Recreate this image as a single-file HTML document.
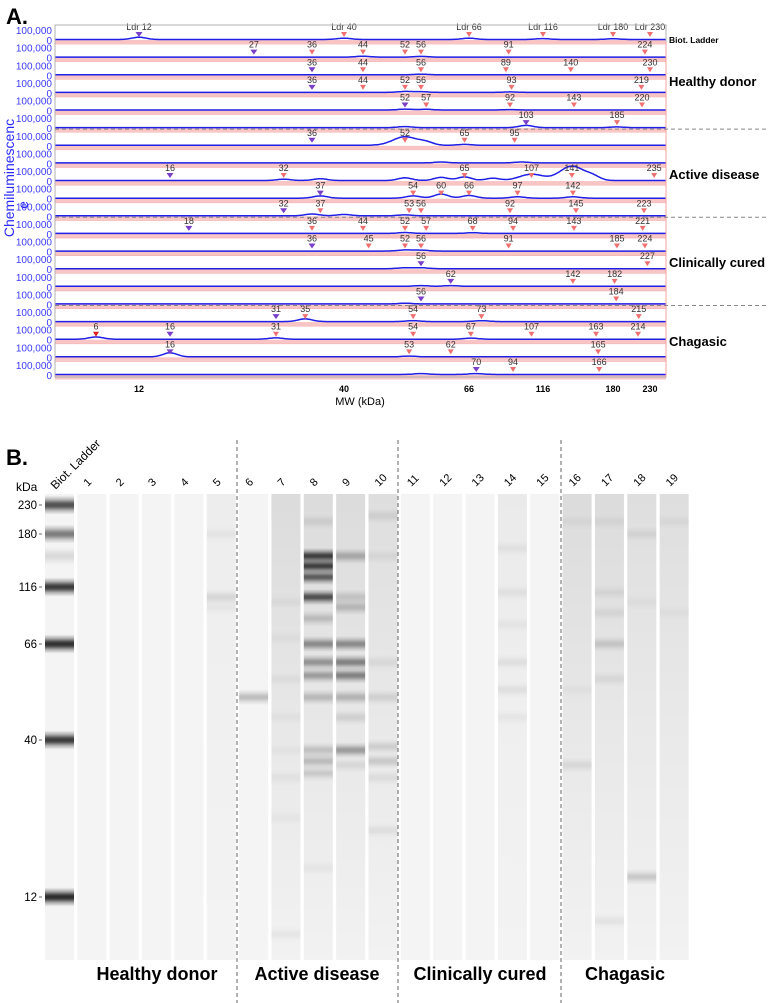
<!DOCTYPE html>
<html><head><meta charset="utf-8"><style>
html,body{margin:0;padding:0;background:#fff;}
body{width:768px;height:1003px;overflow:hidden;position:relative;font-family:"Liberation Sans",Arial,sans-serif;}
svg{position:absolute;left:0;top:0;}
</style></head><body>
<svg id="fig" width="768" height="1003" viewBox="0 0 768 1003" xmlns="http://www.w3.org/2000/svg">
<defs>
<linearGradient id="bandG" x1="0" y1="0" x2="0" y2="1">
<stop offset="0" stop-color="#000" stop-opacity="0"/>
<stop offset="0.2" stop-color="#000" stop-opacity="0.35"/>
<stop offset="0.4" stop-color="#000" stop-opacity="0.9"/>
<stop offset="0.5" stop-color="#000" stop-opacity="1"/>
<stop offset="0.6" stop-color="#000" stop-opacity="0.9"/>
<stop offset="0.8" stop-color="#000" stop-opacity="0.35"/>
<stop offset="1" stop-color="#000" stop-opacity="0"/>
</linearGradient>
<linearGradient id="smearG" x1="0" y1="0" x2="0" y2="1">
<stop offset="0" stop-color="#000" stop-opacity="0.1"/>
<stop offset="0.5" stop-color="#000" stop-opacity="0.05"/>
<stop offset="1" stop-color="#000" stop-opacity="0.01"/>
</linearGradient>
</defs>
<text x="6" y="24" font-size="22" font-weight="bold">A.</text>
<text x="6" y="465" font-size="22" font-weight="bold">B.</text>
<g id="pa"></g>
<g id="pb"></g>
</svg>
<script>
// ---- Panel A data ----
const ladderMW = [12, 40, 66, 116, 180, 230];
const xTickLabels = ["12", "40", "66", "116", "180", "230"];
const rowMarkers = [
  [12, 40, 66, 116, 180, 230],
  [27, 36, 44, 52, 56, 91, 224],
  [36, 44, 56, 89, 140, 230],
  [36, 44, 52, 56, 93, 219],
  [52, 57, 92, 143, 220],
  [103, 185],
  [36, 52, 65, 95],
  [],
  [16, 32, 65, 107, 141, 235],
  [37, 54, 60, 66, 97, 142],
  [32, 37, 53, 56, 92, 145, 223],
  [18, 36, 44, 52, 57, 68, 94, 143, 221],
  [36, 45, 52, 56, 91, 185, 224],
  [56, 227],
  [62, 142, 182],
  [56, 184],
  [31, 35, 54, 73, 215],
  [6, 16, 31, 54, 67, 107, 163, 214],
  [16, 53, 62, 165],
  [70, 94, 166]
];
const rowPrimary = [12, 27, 36, 36, 52, 103, 36, null, 16, 37, 32, 18, 36, 56, 62, 56, 31, 16, 16, 70];
const rowPeaks = [
  [[12, 25], [40, 15], [66, 15], [116, 10], [180, 8]],
  [[44, 10], [56, 8]],
  [[56, 6]],
  [[52, 10], [56, 8], [92, 5]],
  [[52, 10], [57, 8], [92, 5]],
  [[52, 12], [103, 25], [185, 8]],
  [[52, 95], [57, 30], [65, 10]],
  [[60, 10], [100, 10]],
  [[32, 15], [37, 20], [52, 30], [60, 35], [65, 40], [80, 25], [107, 70], [141, 160], [160, 40]],
  [[37, 25], [54, 25], [60, 45], [66, 30], [97, 15], [142, 15]],
  [[36, 20], [40, 15], [52, 10]],
  [[52, 10], [68, 8]],
  [[52, 12], [56, 10]],
  [[52, 10], [56, 10]],
  [[56, 8], [62, 8]],
  [[52, 8]],
  [[35, 30], [54, 10], [73, 10]],
  [[6, 25], [31, 15], [67, 12]],
  [[16, 45], [53, 8]],
  [[56, 10], [70, 10]]
];
const groupNames = ["Healthy  donor", "Active disease", "Clinically  cured", "Chagasic"];

// ---- Panel B data ----
const laneNames = ["Biot. Ladder","1","2","3","4","5","6","7","8","9","10","11","12","13","14","15","16","17","18","19"];
const gelTickMW = [230, 180, 116, 66, 40, 12];
const laneSmear = [0,0,0,0,0,0.3,0,1.2,1,1,0.9,0,0,0,0.4,0,1,1.1,0.9,0.9];
const laneBands = [
  [[230,.75],[180,.55],[150,.12],[116,.85],[66,.9],[40,.85],[12,.92]],
  [],[],[],[],
  [[180,.05],[105,.13],[95,.05]],
  [[50,.28]],
  [[100,.05],[70,.04],[55,.05],[45,.04],[37,.04],[30,.05],[22,.04],[9,.06]],
  [[200,.1],[150,.92],[138,.92],[126,.75],[105,.82],[85,.22],[66,.5],[60,.45],[56,.4],[50,.25],[37,.22],[34,.25],[31,.18],[15,.05]],
  [[150,.32],[105,.18],[95,.25],[66,.5],[60,.55],[56,.55],[50,.28],[45,.13],[37,.42],[33,.1]],
  [[210,.1],[150,.07],[60,.08],[50,.13],[38,.15],[34,.18],[30,.08],[20,.08]],
  [],[],[],
  [[160,.06],[110,.07],[80,.05],[60,.08],[52,.08],[45,.05]],
  [],
  [[200,.05],[52,.04],[33,.1]],
  [[200,.06],[110,.08],[90,.08],[66,.18],[55,.08],[10,.07]],
  [[180,.08],[100,.04],[14,.2]],
  [[200,.05],[90,.04]]
];
const gelGroups = ["Healthy donor", "Active disease", "Clinically cured", "Chagasic"];

// ---- scales ----
const xAnch = [[6,96],[12,139],[16,170],[31,276],[36,312],[40,344],[44,363],[52,405],[56,421],[66,469],[92,510],[116,543],[145,576],[180,613],[223,644],[230,650]];
function interp(anch, v){
  const lv = Math.log(v);
  let i = 0;
  if (lv <= Math.log(anch[0][0])) i = 0;
  else if (lv >= Math.log(anch[anch.length-1][0])) i = anch.length-2;
  else { while (!(lv >= Math.log(anch[i][0]) && lv <= Math.log(anch[i+1][0]))) i++; }
  const a = anch[i], b = anch[i+1];
  const t = (lv - Math.log(a[0]))/(Math.log(b[0]) - Math.log(a[0]));
  return a[1] + t*(b[1]-a[1]);
}
const xA = mw => interp(xAnch, mw);
const yAnch = [[12,897],[40,740],[66,644],[116,587],[180,534],[230,505]];
const yG = mw => interp(yAnch, mw);

const NS = "http://www.w3.org/2000/svg";
function mk(tag, attrs, parent, text){
  const e = document.createElementNS(NS, tag);
  for (const k in attrs) e.setAttribute(k, attrs[k]);
  if (text !== undefined) e.textContent = text;
  parent.appendChild(e);
  return e;
}

// ---- Panel A ----
const pa = document.getElementById("pa");
const L = 55, R = 666, T = 25, B = 377, pitch = 17.63, base0 = 40;
const cnt = 9/100000;
for (let r = 0; r < rowMarkers.length; r++){
  const by = base0 + r*pitch;
  const g = mk("g", {}, pa);
  
  
  const band = mk("rect", {x:L, y:by, width:R-L, height:3.5, fill:"#f8c4c4"}, g);
  
  
  const sep = mk("line", {x1:L, x2:R, y1:by+4, y2:by+4, stroke:"#f4b0b0", "stroke-width":0.8}, g);
  
  
  const yl = mk("text", {x:52, y:by-6, "font-size":10, fill:"#3b3bff", "text-anchor":"end"}, g, "100,000");
  
  
  const y0 = mk("text", {x:52, y:by+4, "font-size":10, fill:"#3b3bff", "text-anchor":"end"}, g, "0");
  
  
  let d = "";
  for (let x = L; x <= R; x += 1.5){
    let h = 0;
    for (const p of rowPeaks[r]){
      const px = xA(p[0]);
      const w = 7 + (p[1] > 60 ? 5 : 0);
      h += p[1]*1000*cnt*Math.exp(-((x-px)*(x-px))/(2*w*w));
    }
    d += (d ? "L" : "M") + x.toFixed(1) + "," + (by - 0.5 - h).toFixed(1);
  }
  const tr = mk("path", {d:d, fill:"none", stroke:"#1f1fe6", "stroke-width":1.5}, g);
  
  
  for (const m of rowMarkers[r]){
    const mx = xA(m);
    const prim = rowPrimary[r] === m;
    const col = (r === 17 && m === 6) ? "#e02020" : (prim ? "#7a3fc8" : "#f07070");
    const s = prim ? 3.5 : 3;
    const tri = mk("polygon", {points:`${mx-s},${by-8} ${mx+s},${by-8} ${mx},${by-3}`, fill:col}, g);
    
    
    const lab = mk("text", {x:mx, y:by-10, "font-size":9, fill:"#333", "text-anchor":"middle"}, g, r === 0 ? "Ldr " + m : String(m));
    
    
  }
}
const box = mk("rect", {x:L, y:T, width:R-L, height:B-T, fill:"none", stroke:"#b0b0b0", "stroke-width":1}, pa);


const rb = mk("line", {x1:R, x2:R, y1:T+17, y2:B, stroke:"#f4a0a0", "stroke-width":1}, pa);


[5, 10, 15].forEach(r => {
  const y = base0 + r*pitch + 1;
  const dl = mk("line", {x1:L, x2:768, y1:y, y2:y, stroke:"#888", "stroke-width":1, "stroke-dasharray":"4,3"}, pa);
  
  
});
ladderMW.forEach((m, i) => {
  const t = mk("text", {x:xA(m), y:392, "font-size":9, "font-weight":"bold", "text-anchor":"middle"}, pa, xTickLabels[i]);
  
  
});
const xt = mk("text", {x:360, y:405, "font-size":11, "text-anchor":"middle"}, pa, "MW (kDa)");


const yt = mk("text", {x:0, y:0, "font-size":14, fill:"#2a2aff", "text-anchor":"middle", transform:"translate(14,178) rotate(-90)"}, pa, "Chemiluminescenc");


const yt2 = mk("text", {x:0, y:0, "font-size":14, fill:"#2a2aff", "text-anchor":"middle", transform:"translate(28,205) rotate(-90)"}, pa, "e");


const bl = mk("text", {x:669, y:43, "font-size":8.5, "font-weight":"bold"}, pa, "Biot. Ladder");


[86, 179, 267, 346].forEach((y, i) => {
  const t = mk("text", {x:669, y:y, "font-size":13, "font-weight":"bold", "xml:space":"preserve"}, pa, groupNames[i]);
  
  
});

// ---- Panel B ----
const pb = document.getElementById("pb");
const gTop = 494, gBot = 960;
for (let i = 0; i < laneNames.length; i++){
  const lx = 45 + i*32.35, lw = 29;
  const g = mk("g", {}, pb);
  
  
  const bg = mk("rect", {x:lx, y:gTop, width:lw, height:gBot-gTop, fill:"#f4f4f4"}, g);
  
  
  if (laneSmear[i] > 0){
    const sm = mk("rect", {x:lx, y:gTop, width:lw, height:gBot-gTop, fill:"url(#smearG)", opacity:Math.min(1, laneSmear[i])}, g);
    
    
  }
  for (const b of laneBands[i]){
    const h = i === 0 ? 19 : 16;
    const by = yG(b[0]);
    const band = mk("rect", {x:lx, y:by-h/2, width:lw, height:h, fill:"url(#bandG)", opacity:b[1]*(i === 0 ? 0.9 : 0.8)}, g);
    
    
  }
  const cx = lx + lw/2;
  const lab = mk("text", {x:0, y:0, "font-size":i === 0 ? 12 : 11, transform:`translate(${cx-4},${i===0?490:487}) rotate(-45)`}, g, laneNames[i]);
  
  
}
const kda = mk("text", {x:16, y:491, "font-size":12}, pb, "kDa");


gelTickMW.forEach(m => {
  const y = yG(m);
  const t = mk("text", {x:37, y:y+4, "font-size":11.5, "text-anchor":"end"}, pb, String(m));
  
  
  const tk = mk("line", {x1:39, x2:42, y1:y, y2:y, stroke:"#444", "stroke-width":0.8}, pb);
  
  
});
[237, 398, 561].forEach(x => {
  const dl = mk("line", {x1:x, x2:x, y1:440, y2:1003, stroke:"#666", "stroke-width":1, "stroke-dasharray":"4,3"}, pb);
  
  
});
[157, 317, 480, 625].forEach((x, i) => {
  const t = mk("text", {x:x, y:980, "font-size":18, "font-weight":"bold", "text-anchor":"middle", "font-family":"'Liberation Sans Narrow','Liberation Sans',sans-serif"}, pb, gelGroups[i]);
  
  
});
</script>
</body></html>
